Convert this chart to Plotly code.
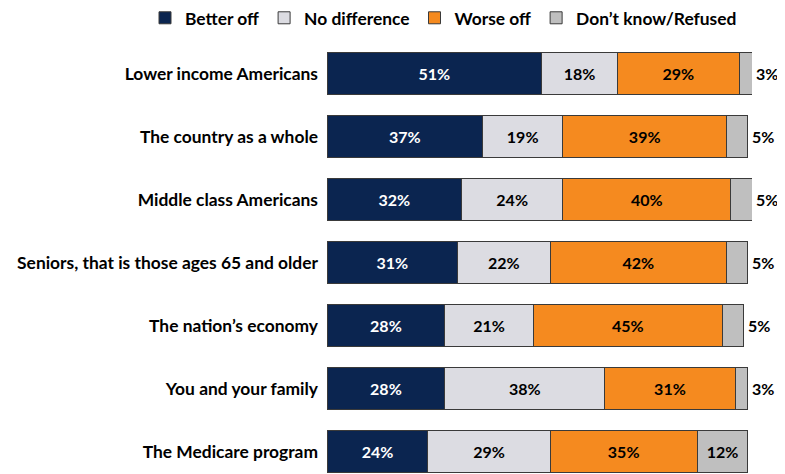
import plotly.graph_objects as go

categories = ["Lower income Americans", "The country as a whole", "Middle class Americans",
              "Seniors, that is those ages 65 and older", "The nation\u2019s economy",
              "You and your family", "The Medicare program"]
better_off = [51, 37, 32, 31, 28, 28, 24]
no_difference = [18, 19, 24, 22, 21, 38, 29]
worse_off = [29, 39, 40, 42, 45, 31, 35]
dont_know = [3, 5, 5, 5, 5, 3, 12]

series = [
    ("Better off", better_off, "#0b2550", "white"),
    ("No difference", no_difference, "#dcdce2", "black"),
    ("Worse off", worse_off, "#f58a1f", "black"),
    ("Don\u2019t know/Refused", dont_know, "#bfbfbf", "black"),
]

FONT = "Lato, Arial, sans-serif"
LABEL_SIZE = 17.4
DATA_SIZE = 16
LEGEND_SIZE = 17.4

fig = go.Figure()
for name, vals, color, tcolor in series:
    small = name.startswith("Don")
    txt = [("" if (small and v < 10) else f"{v}%") for v in vals]
    fig.add_trace(go.Bar(
        y=categories, x=vals, name=name, orientation="h",
        marker=dict(color=color, line=dict(color="#3a3a3a", width=1)),
        text=txt, textposition="inside",
        insidetextanchor="middle",
        insidetextfont=dict(color=tcolor, size=DATA_SIZE, family=FONT, weight="bold"),
        textangle=0, cliponaxis=False, width=0.68,
    ))

# outside labels for the small "Don't know" segments
for i, cat in enumerate(categories):
    v = dont_know[i]
    if v < 10:
        total = better_off[i] + no_difference[i] + worse_off[i] + v
        fig.add_annotation(x=total, y=cat, text=f"{v}%", showarrow=False,
                           xanchor="left", xshift=2,
                           font=dict(size=DATA_SIZE, family=FONT, color="black", weight="bold"))

fig.update_layout(
    barmode="stack",
    width=777, height=466,
    margin=dict(l=319, r=33, t=34, b=0, autoexpand=False),
    paper_bgcolor="white", plot_bgcolor="white",
    font=dict(family=FONT, size=LABEL_SIZE, color="black", weight="bold"),
    uniformtext=dict(mode=False),
    showlegend=True,
    legend=dict(orientation="h", xref="paper", yref="paper",
                x=-0.4282, xanchor="left", y=1.0556, yanchor="middle",
                bgcolor="rgba(0,0,0,0)",
                font=dict(size=LEGEND_SIZE, family=FONT, color="black", weight="bold"),
                traceorder="normal", itemwidth=30),
    xaxis=dict(range=[0, 101], visible=False, fixedrange=True),
    yaxis=dict(categoryorder="array", categoryarray=categories, range=[6.357, -0.5],
               showline=False, showgrid=False, ticks="", ticklabelstandoff=8,
               automargin=False,
               tickfont=dict(size=LABEL_SIZE, family=FONT, color="black", weight="bold")),
)

fig.write_html("out.html")
